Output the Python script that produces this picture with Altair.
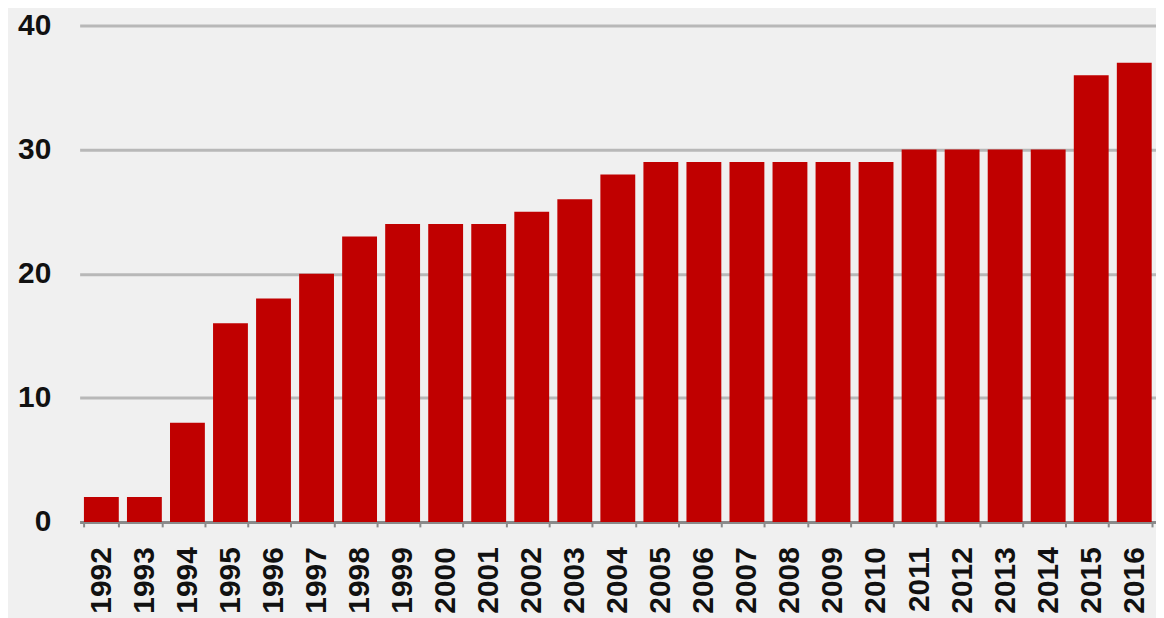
import altair as alt
import pandas as pd

years = [str(y) for y in range(1992, 2017)]
values = [2, 2, 8, 16, 18, 20, 23, 24, 24, 24, 25, 26, 28, 29, 29, 29, 29, 29, 29, 30, 30, 30, 30, 36, 37]

df = pd.DataFrame({"year": years, "value": values})

chart = alt.Chart(df).mark_bar(color="#C00000").encode(
    x=alt.X("year:N", sort=None, title=None,
            scale=alt.Scale(paddingInner=0.19, paddingOuter=0.1),
            axis=alt.Axis(labelAngle=-90, labelFont="Liberation Sans", labelFontSize=30,
                          labelFontWeight="bold", labelColor="#111111", labelPadding=20,
                          domainColor="#8a8a8a", domainWidth=3, tickColor="#8a8a8a",
                          tickBand="extent", tickSize=5, tickWidth=2, labelBaseline="middle",
                          labelOverlap=False)),
    y=alt.Y("value:Q", title=None,
            scale=alt.Scale(domain=[0, 40]),
            axis=alt.Axis(values=[0, 10, 20, 30, 40], labelFont="Liberation Sans", labelFontSize=30,
                          labelFontWeight="bold", labelColor="#111111", labelPadding=29,
                          domain=False, ticks=False, gridColor="#b8b8b8", gridWidth=3)),
).properties(
    width=1082, height=499,
    background="#f0f0f0",
    padding={"left": 72, "top": 16, "right": 0, "bottom": 95},
    autosize=alt.AutoSizeParams(type="none"),
).configure_view(stroke=None)

chart.save("out.html", embed_options={"renderer": "svg", "actions": False})
